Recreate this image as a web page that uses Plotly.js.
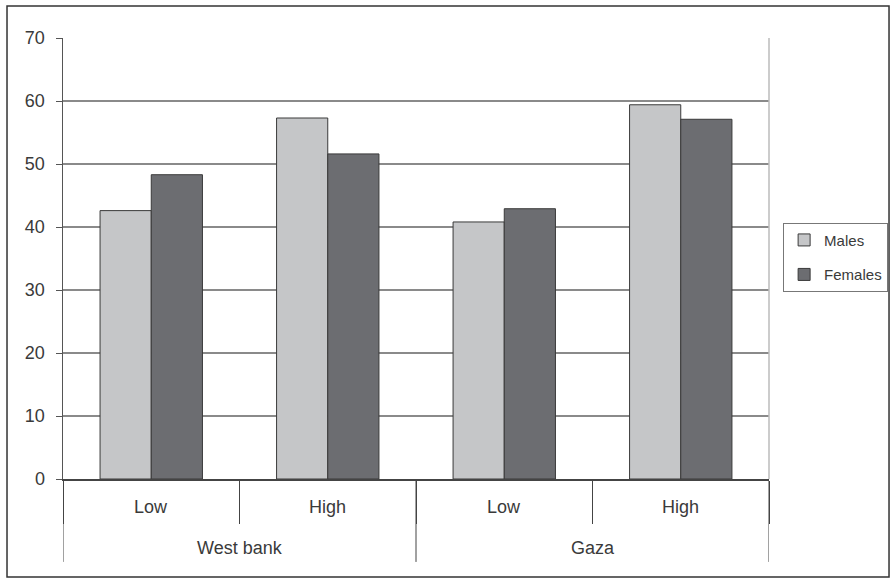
<!DOCTYPE html>
<html>
<head>
<meta charset="utf-8">
<script src="https://cdn.plot.ly/plotly-3.0.1.min.js"></script>
<style>html,body{margin:0;padding:0;background:#fff;}#chart{width:893px;height:581px;}</style>
</head>
<body>
<div id="chart"></div>
<script>
const regions = ["West bank", "West bank", "Gaza", "Gaza"];
const levels = ["Low", "High", "Low", "High"];
const males = [42.6, 57.3, 40.8, 59.4];
const females = [48.3, 51.6, 42.9, 57.1];
const yTicks = [0, 10, 20, 30, 40, 50, 60, 70];

const cats = regions.map((r, i) => r + " | " + levels[i]);

const traces = [
  {type: "bar", name: "Males", x: cats, y: males, legendgroup: "m",
   marker: {color: "#c5c6c8", line: {color: "#3a3a3a", width: 1}}},
  {type: "bar", name: "Females", x: cats, y: females, legendgroup: "f",
   marker: {color: "#6c6d71", line: {color: "#3a3a3a", width: 1}}}
];

const labelFont = {family: "Liberation Sans, Arial, sans-serif", size: 18, color: "#3a3a3a"};

const annotations = [];
levels.forEach((lv, i) => {
  annotations.push({xref: "x", yref: "paper", x: i, y: -0.0646, text: lv, showarrow: false,
                    xanchor: "center", yanchor: "middle", font: labelFont});
});
const uniqueRegions = [...new Set(regions)];
uniqueRegions.forEach(r => {
  const idx = regions.map((v, i) => v === r ? i : -1).filter(i => i >= 0);
  const mid = (idx[0] + idx[idx.length - 1]) / 2;
  annotations.push({xref: "x", yref: "paper", x: mid, y: -0.1565, text: r, showarrow: false,
                    xanchor: "center", yanchor: "middle", font: labelFont});
});

const shapes = [];
const bounds = [-0.5];
regions.forEach((r, i) => { if (i > 0 && r !== regions[i - 1]) bounds.push(i - 0.5); });
bounds.push(regions.length - 0.5);
bounds.forEach(b => {
  shapes.push({type: "line", xref: "x", yref: "paper", x0: b, x1: b, y0: 0, y1: -0.188,
               line: {color: "#444", width: 1}});
});
shapes.push({type: "line", xref: "paper", yref: "paper", x0: 1, x1: 1, y0: 0, y1: 1,
             line: {color: "#bbb", width: 1.5}});
shapes.push({type: "rect", xref: "paper", yref: "paper", x0: -0.0793, x1: 1.17, y0: -0.2222, y1: 1.0726,
             line: {color: "#333", width: 1.5}});

const layout = {
  width: 893, height: 581,
  margin: {l: 63, r: 124, t: 38, b: 102, autoexpand: false},
  paper_bgcolor: "#fff", plot_bgcolor: "#fff",
  font: labelFont,
  barmode: "group", bargap: 0.42, bargroupgap: 0,
  showlegend: true,
  legend: {x: 1.02, y: 0.503, xanchor: "left", yanchor: "middle", traceorder: "grouped",
           bordercolor: "#777", borderwidth: 1,
           font: {family: "Liberation Sans, Arial, sans-serif", size: 15, color: "#3a3a3a"},
           itemwidth: 30, tracegroupgap: 12},
  xaxis: {type: "category", showline: true, linecolor: "#444", linewidth: 1.5,
          tickson: "boundaries", ticks: "outside", ticklen: 43, tickcolor: "#444", tickwidth: 1,
          showticklabels: false, showgrid: false, range: [-0.5, 3.5]},
  yaxis: {range: [0, 70], tickvals: yTicks, ticks: "outside", ticklen: 6, tickcolor: "#555",
          ticklabelstandoff: 7,
          showline: true, linecolor: "#555", linewidth: 1.5,
          showgrid: true, gridcolor: "#8a8a8a", gridwidth: 1.5, zeroline: false,
          tickfont: labelFont},
  annotations: annotations,
  shapes: shapes
};

Plotly.newPlot("chart", traces, layout, {staticPlot: true});
</script>
</body>
</html>
